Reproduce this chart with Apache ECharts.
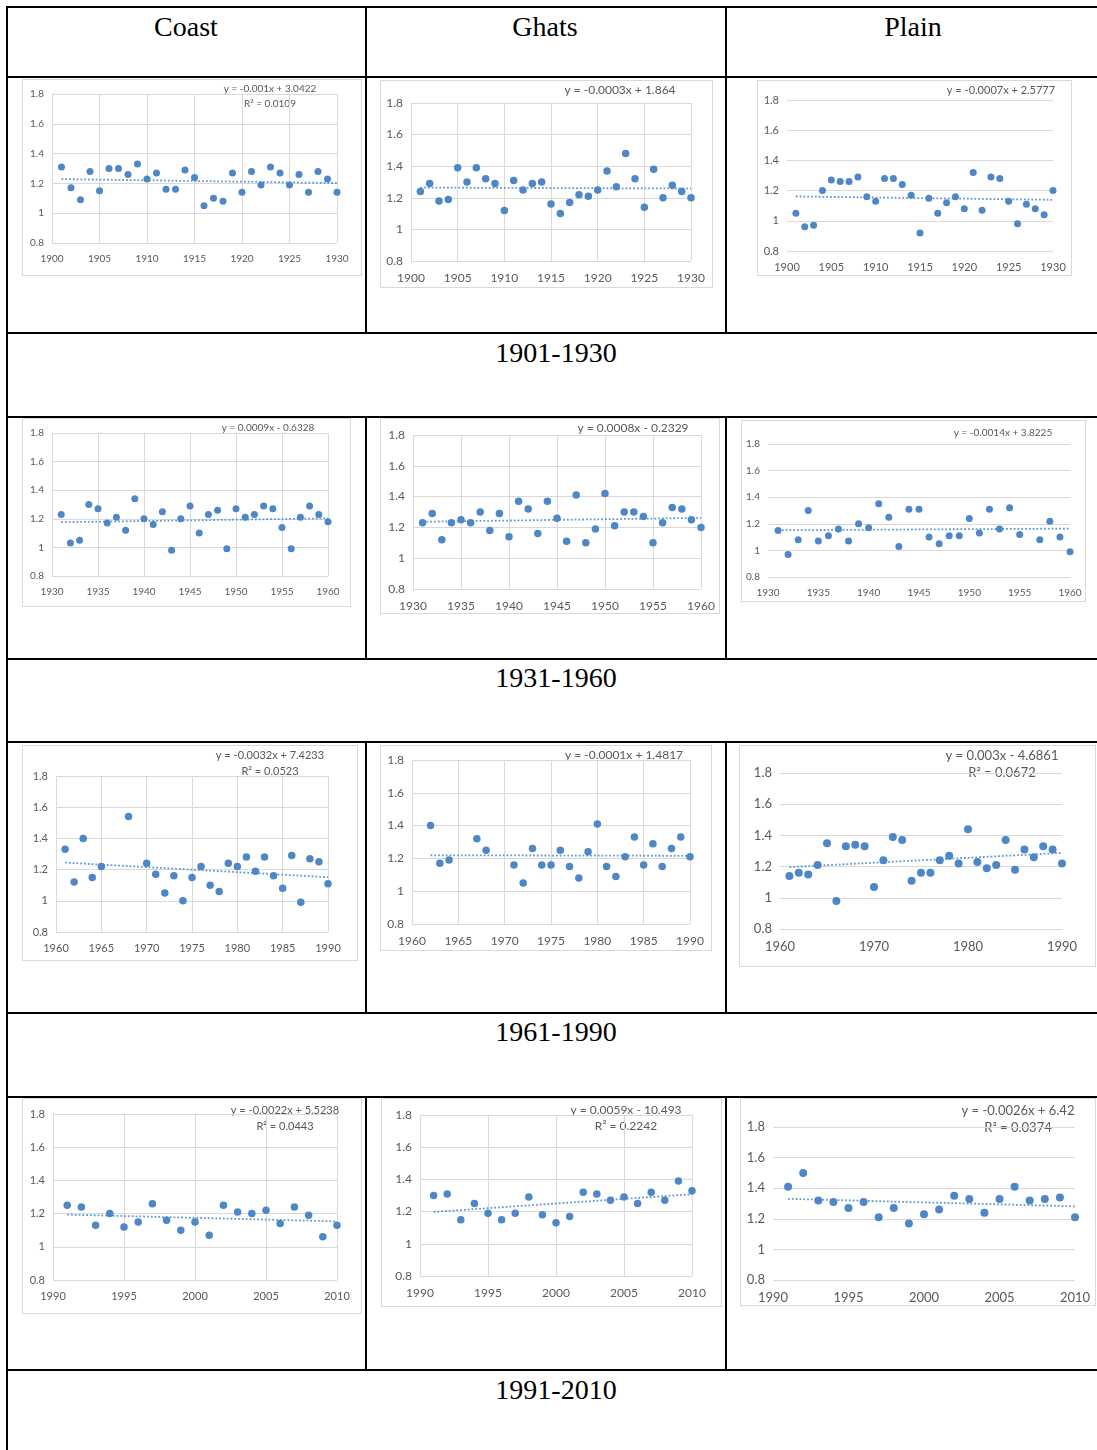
<!DOCTYPE html>
<html>
<head>
<meta charset="utf-8">
<script src="https://cdn.jsdelivr.net/npm/echarts@6/dist/echarts.min.js"></script>
<style>
  body { margin: 0; background: #fff; }
  #page { position: relative; width: 1097px; height: 1450px; overflow: hidden; background: #fff; }
  .rule { position: absolute; background: #000; }
  .head { position: absolute; font-family: 'Liberation Serif', 'Times New Roman', serif; font-size: 28px; line-height: 32px; color: #000; text-align: center; white-space: nowrap; }
  .chart { position: absolute; box-sizing: border-box; border: 1px solid #d9d9d9; background: #fff; }
</style>
</head>
<body>
<div id="page"></div>
<script>
// ---- data (annual values per region) ----
const years1901 = [1901, 1902, 1903, 1904, 1905, 1906, 1907, 1908, 1909, 1910, 1911, 1912, 1913, 1914, 1915,
  1916, 1917, 1918, 1919, 1920, 1921, 1922, 1923, 1924, 1925, 1926, 1927, 1928, 1929, 1930]
const coast1901 = [1.31, 1.17, 1.09, 1.28, 1.15, 1.30, 1.30, 1.26, 1.33, 1.23, 1.27, 1.16, 1.16, 1.29, 1.24,
  1.05, 1.10, 1.08, 1.27, 1.14, 1.28, 1.19, 1.31, 1.27, 1.19, 1.26, 1.14, 1.28, 1.23, 1.14]
const ghats1901 = [1.24, 1.29, 1.18, 1.19, 1.39, 1.30, 1.39, 1.32, 1.29, 1.12, 1.31, 1.25, 1.29, 1.30, 1.16,
  1.10, 1.17, 1.22, 1.21, 1.25, 1.37, 1.27, 1.48, 1.32, 1.14, 1.38, 1.20, 1.28, 1.24, 1.20]
const plain1901 = [1.05, 0.96, 0.97, 1.20, 1.27, 1.26, 1.26, 1.29, 1.16, 1.13, 1.28, 1.28, 1.24, 1.17, 0.92,
  1.15, 1.05, 1.12, 1.16, 1.08, 1.32, 1.07, 1.29, 1.28, 1.13, 0.98, 1.11, 1.08, 1.04, 1.20]

const years1931 = [1931, 1932, 1933, 1934, 1935, 1936, 1937, 1938, 1939, 1940, 1941, 1942, 1943, 1944, 1945,
  1946, 1947, 1948, 1949, 1950, 1951, 1952, 1953, 1954, 1955, 1956, 1957, 1958, 1959, 1960]
const coast1931 = [1.23, 1.03, 1.05, 1.30, 1.27, 1.17, 1.21, 1.12, 1.34, 1.20, 1.16, 1.25, 0.98, 1.20, 1.29,
  1.10, 1.23, 1.26, 0.99, 1.27, 1.21, 1.23, 1.29, 1.27, 1.14, 0.99, 1.21, 1.29, 1.23, 1.18]
const ghats1931 = [1.23, 1.29, 1.12, 1.23, 1.25, 1.23, 1.30, 1.18, 1.29, 1.14, 1.37, 1.32, 1.16, 1.37, 1.26,
  1.11, 1.41, 1.10, 1.19, 1.42, 1.21, 1.30, 1.30, 1.27, 1.10, 1.23, 1.33, 1.32, 1.25, 1.20]
const plain1931 = [1.15, 0.97, 1.08, 1.30, 1.07, 1.11, 1.16, 1.07, 1.20, 1.17, 1.35, 1.25, 1.03, 1.31, 1.31,
  1.10, 1.05, 1.11, 1.11, 1.24, 1.13, 1.31, 1.16, 1.32, 1.12, null, 1.08, 1.22, 1.10, 0.99]

const years1961 = [1961, 1962, 1963, 1964, 1965, 1966, 1967, 1968, 1969, 1970, 1971, 1972, 1973, 1974, 1975,
  1976, 1977, 1978, 1979, 1980, 1981, 1982, 1983, 1984, 1985, 1986, 1987, 1988, 1989, 1990]
const coast1961 = [1.33, 1.12, 1.40, 1.15, 1.22, null, null, 1.54, null, 1.24, 1.17, 1.05, 1.16, 1.00, 1.15,
  1.22, 1.10, 1.06, 1.24, 1.22, 1.28, 1.19, 1.28, 1.16, 1.08, 1.29, 0.99, 1.27, 1.25, 1.11]
const ghats1961 = [null, 1.40, 1.17, 1.19, null, null, 1.32, 1.25, null, null, 1.16, 1.05, 1.26, 1.16, 1.16,
  1.25, 1.15, 1.08, 1.24, 1.41, 1.15, 1.09, 1.21, 1.33, 1.16, 1.29, 1.15, 1.26, 1.33, 1.21]
const plain1961 = [1.14, 1.16, 1.15, 1.21, 1.35, 0.98, 1.33, 1.34, 1.33, 1.07, 1.24, 1.39, 1.37, 1.11, 1.16,
  1.16, 1.24, 1.27, 1.22, 1.44, 1.23, 1.19, 1.21, 1.37, 1.18, 1.31, 1.26, 1.33, 1.31, 1.22]

const years1991 = [1991, 1992, 1993, 1994, 1995, 1996, 1997, 1998, 1999, 2000,
  2001, 2002, 2003, 2004, 2005, 2006, 2007, 2008, 2009, 2010]
const coast1991 = [1.25, 1.24, 1.13, 1.20, 1.12, 1.15, 1.26, 1.16, 1.10, 1.15,
  1.07, 1.25, 1.21, 1.20, 1.22, 1.14, 1.24, 1.19, 1.06, 1.13]
const ghats1991 = [1.30, 1.31, 1.15, 1.25, 1.19, 1.15, 1.19, 1.29, 1.18, 1.13,
  1.17, 1.32, 1.31, 1.27, 1.29, 1.25, 1.32, 1.27, 1.39, 1.33]
const plain1991 = [1.41, 1.50, 1.32, 1.31, 1.27, 1.31, 1.21, 1.27, 1.17, 1.23,
  1.26, 1.35, 1.33, 1.24, 1.33, 1.41, 1.32, 1.33, 1.34, 1.21]

const columns = ['Coast', 'Ghats', 'Plain']
const periods = ['1901-1930', '1931-1960', '1961-1990', '1991-2010']
const equations = [
  ['y = -0.001x + 3.0422', 'R² = 0.0109'], ['y = -0.0003x + 1.864'], ['y = -0.0007x + 2.5777'],
  ['y = 0.0009x - 0.6328'], ['y = 0.0008x - 0.2329'], ['y = -0.0014x + 3.8225'],
  ['y = -0.0032x + 7.4233', 'R² = 0.0523'], ['y = -0.0001x + 1.4817'], ['y = 0.003x - 4.6861', 'R² = 0.0672'],
  ['y = -0.0022x + 5.5238', 'R² = 0.0443'], ['y = 0.0059x - 10.493', 'R² = 0.2242'], ['y = -0.0026x + 6.42', 'R² = 0.0374']
]

// ---- layout of the table and the 12 small charts (page px) ----
// box: chart frame [x, y, w, h]; plot: [x0, y0, x1, y1]; eq: centre of first equation line
const panels = [
  { years: years1901, values: coast1901, box: [22, 79, 340, 197], plot: [52, 94, 337, 243], min: 1900, max: 1930, step: 5, vgrid: true, font: 10, size: 7, eq: [270, 89], lh: 15 },
  { years: years1901, values: ghats1901, box: [380, 80, 333, 208], plot: [411, 103, 691, 261], min: 1900, max: 1930, step: 5, vgrid: true, font: 12, size: 7.5, eq: [620, 90], lh: 16 },
  { years: years1901, values: plain1901, box: [757, 80, 315, 196], plot: [787, 100, 1053, 251], min: 1900, max: 1930, step: 5, vgrid: false, font: 11, size: 7, eq: [1001, 90], lh: 15 },
  { years: years1931, values: coast1931, box: [22, 418, 329, 189], plot: [52, 433, 328, 576], min: 1930, max: 1960, step: 5, vgrid: true, font: 10, size: 7, eq: [268, 428], lh: 15 },
  { years: years1931, values: ghats1931, box: [380, 418, 340, 196], plot: [413, 435, 701, 589], min: 1930, max: 1960, step: 5, vgrid: true, font: 12, size: 7.5, eq: [633, 428], lh: 16 },
  { years: years1931, values: plain1931, box: [741, 420, 345, 182], plot: [768, 444, 1070, 577], min: 1930, max: 1960, step: 5, vgrid: false, font: 10, size: 7, eq: [1003, 433], lh: 15 },
  { years: years1961, values: coast1961, box: [22, 745, 336, 216], plot: [56, 776, 328, 932], min: 1960, max: 1990, step: 5, vgrid: true, font: 11, size: 7.5, eq: [270, 755], lh: 16 },
  { years: years1961, values: ghats1961, box: [380, 745, 332, 206], plot: [412, 760, 690, 924], min: 1960, max: 1990, step: 5, vgrid: true, font: 12, size: 7.5, eq: [624, 755], lh: 16 },
  { years: years1961, values: plain1961, box: [739, 745, 357, 222], plot: [780, 773, 1062, 929], min: 1960, max: 1990, step: 10, vgrid: false, font: 13, size: 8, eq: [1002, 756], lh: 17 },
  { years: years1991, values: coast1991, box: [22, 1098, 340, 216], plot: [53, 1114, 337, 1280], min: 1990, max: 2010, step: 5, vgrid: true, font: 11, size: 7.5, eq: [285, 1110], lh: 16 },
  { years: years1991, values: ghats1991, box: [381, 1098, 341, 209], plot: [420, 1115, 692, 1276], min: 1990, max: 2010, step: 5, vgrid: true, font: 12, size: 7.5, eq: [626, 1110], lh: 16 },
  { years: years1991, values: plain1991, box: [740, 1098, 356, 208], plot: [773, 1127, 1075, 1280], min: 1990, max: 2010, step: 5, vgrid: false, font: 13, size: 8, eq: [1018, 1111], lh: 17 }
]

const page = document.getElementById('page')

function add(cls, css, text) {
  const d = document.createElement('div')
  d.className = cls
  Object.assign(d.style, css)
  if (text) d.textContent = text
  page.appendChild(d)
  return d
}

// table rules
const hRules = [7, 77, 333, 417, 659, 742, 1013, 1097, 1370]
hRules.forEach(y => add('rule', { left: '7px', top: (y - 1) + 'px', width: '1090px', height: '2px' }))
add('rule', { left: '6px', top: '6px', width: '2px', height: '1444px' })
const chartRows = [[7, 333], [417, 659], [742, 1013], [1097, 1370]]
;[366, 726].forEach(x => chartRows.forEach(([a, b]) =>
  add('rule', { left: (x - 1) + 'px', top: a + 'px', width: '2px', height: (b - a) + 'px' })))

// headers and period labels
const headCentres = [186, 545, 913]
columns.forEach((c, i) => add('head', { left: (headCentres[i] - 100) + 'px', top: '11px', width: '200px' }, c))
const periodTops = [337, 662, 1016, 1374]
periods.forEach((p, i) => add('head', { left: '456px', top: periodTops[i] + 'px', width: '200px' }, p))

function fitLine(pts) {
  const n = pts.length
  let sx = 0, sy = 0, sxx = 0, sxy = 0
  pts.forEach(([x, y]) => { sx += x; sy += y; sxx += x * x; sxy += x * y })
  const b = (n * sxy - sx * sy) / (n * sxx - sx * sx)
  const a = (sy - b * sx) / n
  return x => a + b * x
}

const blue = '#4f86c6'
const labelColor = '#595959'
const fontFamily = 'Lato, "Liberation Sans", sans-serif'

panels.forEach((p, idx) => {
  const [bx, by, bw, bh] = p.box
  const el = add('chart', { left: bx + 'px', top: by + 'px', width: bw + 'px', height: bh + 'px' })
  const chart = echarts.init(el)

  const pts = p.years.map((y, i) => [y, p.values[i]]).filter(d => d[1] != null)
  const f = fitLine(pts)
  const xa = pts[0][0], xb = pts[pts.length - 1][0]

  const eqText = equations[idx].map((t, k) => ({
    type: 'text',
    x: p.eq[0] - bx - 1,
    y: p.eq[1] - by - 1 + k * p.lh,
    style: {
      text: t,
      fill: labelColor,
      font: `${p.font}px ${fontFamily}`,
      textAlign: 'center',
      textVerticalAlign: 'middle'
    }
  }))

  chart.setOption({
    animation: false,
    grid: {
      left: p.plot[0] - bx - 1,
      top: p.plot[1] - by - 1,
      width: p.plot[2] - p.plot[0],
      height: p.plot[3] - p.plot[1]
    },
    xAxis: {
      type: 'value',
      min: p.min,
      max: p.max,
      interval: p.step,
      axisLine: { show: false },
      axisTick: { show: false },
      splitLine: { show: p.vgrid, lineStyle: { color: '#d9d9d9', width: 1 } },
      axisLabel: { color: labelColor, fontSize: p.font, fontFamily, margin: 11, formatter: v => String(v) }
    },
    yAxis: {
      type: 'value',
      min: 0.8,
      max: 1.8,
      interval: 0.2,
      axisLine: { show: false },
      axisTick: { show: false },
      splitLine: { lineStyle: { color: '#d9d9d9', width: 1 } },
      axisLabel: { color: labelColor, fontSize: p.font, fontFamily, margin: 8 }
    },
    graphic: eqText,
    series: [
      {
        type: 'line',
        data: [[xa, f(xa)], [xb, f(xb)]],
        symbol: 'none',
        z: 1,
        lineStyle: { color: '#5b9bd5', width: 1.8, type: [1.8, 2] }
      },
      {
        type: 'scatter',
        data: pts,
        symbolSize: p.size,
        z: 2,
        itemStyle: { color: blue, opacity: 1 }
      }
    ]
  })
})
</script>
</body>
</html>
